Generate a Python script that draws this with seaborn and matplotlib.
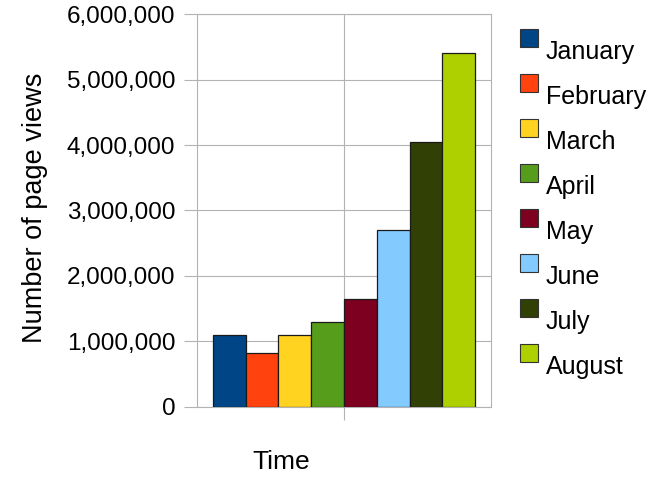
import matplotlib
matplotlib.use("Agg")
import matplotlib.pyplot as plt
import matplotlib.ticker as mticker
from matplotlib.patches import Rectangle
from matplotlib.legend_handler import HandlerPatch
import pandas as pd
import seaborn as sns

months = ["January", "February", "March", "April", "May", "June", "July", "August"]
page_views = [1090000, 815000, 1090000, 1295000, 1640000, 2705000, 4040000, 5415000]
colors = ["#004586", "#ff420e", "#ffd320", "#579d1c", "#7e0021", "#83caff", "#314004", "#aecf00"]
y_ticks = [0, 1000000, 2000000, 3000000, 4000000, 5000000, 6000000]

sns.set_theme(style="white")
plt.rcParams["font.family"] = ["Liberation Sans", "DejaVu Sans"]
plt.rcParams["text.color"] = "#000000"

df = pd.DataFrame({"Time": [""] * len(months), "Month": months, "Views": page_views})

fig = plt.figure(figsize=(6.69, 4.78), dpi=100)
ax = fig.add_axes([197 / 669, 1 - 406.7 / 478, 294 / 669, 392.4 / 478])

grid_col = "#b3b3b3"
sns.barplot(data=df, x="Time", y="Views", hue="Month", palette=colors,
            hue_order=months, width=0.893, edgecolor="#1a1a1a", linewidth=0.9,
            saturation=1, ax=ax, legend=True, zorder=3)

ax.set_ylim(0, 6000000)
ax.set_xlim(-0.5, 0.5)
ax.set_yticks(y_ticks)
ax.yaxis.set_major_formatter(mticker.FuncFormatter(lambda v, p: f"{int(v):,}"))
ax.set_xticks([0])
ax.set_xticklabels([""])
ax.grid(True, color=grid_col, linewidth=0.8, zorder=0)
ax.set_axisbelow(True)
for s in ax.spines.values():
    s.set_color(grid_col)
    s.set_linewidth(0.8)
ax.tick_params(axis="both", direction="out", length=9.5, width=0.8, color=grid_col,
               labelsize=17.5, labelcolor="#000000", pad=6)
ax.tick_params(axis="y", left=True)
ax.tick_params(axis="x", bottom=True)

ax.set_ylabel("Number of page views", fontsize=19.5, color="#000000")
ax.yaxis.set_label_coords((35.5 - 197) / 294, (406.7 - 208) / 392.4)
ax.set_xlabel("Time", fontsize=19, color="#000000")
ax.xaxis.set_label_coords((281 - 197) / 294, (406.7 - 462) / 392.4)
ax.xaxis.label.set_va("center")
ax.yaxis.label.set_va("center")


def square_patch(legend, orig_handle, xdescent, ydescent, width, height, fontsize):
    return Rectangle((-xdescent, -ydescent + 0.5 * fontsize), width, height)


handles, labels = ax.get_legend_handles_labels()
leg = ax.legend(handles, labels, loc="upper left", bbox_to_anchor=(520 / 669, 1 - 40 / 478),
                bbox_transform=fig.transFigure, frameon=False, fontsize=18,
                handlelength=0.72, handleheight=0.72, handletextpad=0.3,
                labelspacing=0.84, borderpad=0, borderaxespad=0,
                handler_map={Rectangle: HandlerPatch(patch_func=square_patch)})
for t in leg.get_texts():
    t.set_color("#000000")
for h in leg.legend_handles:
    h.set_edgecolor("#333333")
    h.set_linewidth(0.8)

fig.savefig("out.png", dpi=100)
